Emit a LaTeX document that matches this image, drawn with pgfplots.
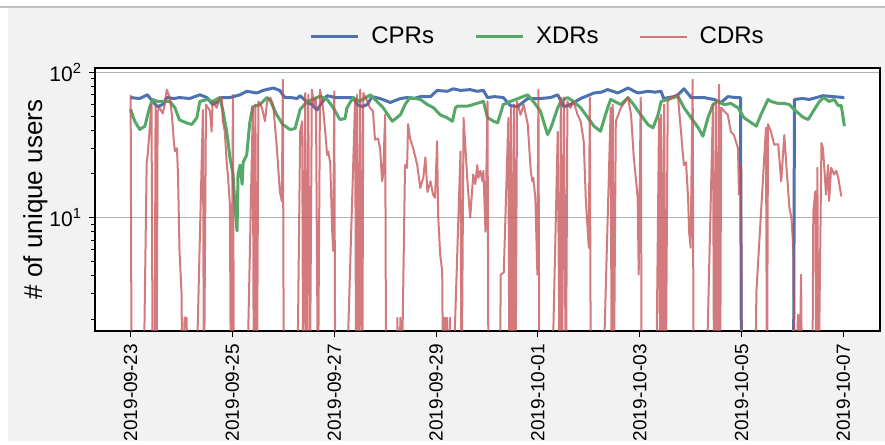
\documentclass[border=0pt]{standalone}
\usepackage{fontspec}
\setmainfont{Liberation Sans}
\usepackage{pgfplots}
\pgfplotsset{compat=1.18}
\definecolor{cpr}{HTML}{4C72B0}
\definecolor{xdr}{HTML}{55A868}
\definecolor{cdr}{HTML}{C44E52}
\definecolor{bg}{HTML}{F2F2F2}
\begin{document}
\begin{tikzpicture}
\fill[white] (0,0) rectangle (442.5pt,222.5pt);
\fill[bg] (4pt,2pt) rectangle (442.5pt,219pt);
\draw[black!25, line width=0.6pt] (0pt,219pt) -- (442.5pt,219pt);
\begin{axis}[
  at={(47.5pt,57pt)}, anchor=south west,
  scale only axis, width=392.5pt, height=131.5pt,
  ymode=log,
  xmin=-0.70, xmax=14.72, ymin=1.66, ymax=107,
  xtick={0,2,4,6,8,10,12,14},
  xticklabels={2019-09-23,2019-09-25,2019-09-27,2019-09-29,2019-10-01,2019-10-03,2019-10-05,2019-10-07},
  xticklabel style={rotate=90, anchor=east, font=\fontsize{9.5}{11}\selectfont},
  ytick={10,100},
  yticklabels={10\textsuperscript{1},10\textsuperscript{2}},
  minor ytick={2,3,4,5,6,7,8,9,20,30,40,50,60,70,80,90},
  yticklabel style={font=\fontsize{10.5}{12}\selectfont},
  tick align=outside, tick pos=left,
  major tick length=3pt, minor tick length=1.8pt,
  every tick/.style={black, line width=0.5pt},
  ymajorgrids, major grid style={color=black!30, line width=0.5pt},
  axis line style={line width=0.8pt},
  axis background/.style={fill=white},
  ylabel={\# of unique users},
  ylabel style={at={(axis description cs:-0.076,0.5)}, anchor=center, font=\fontsize{13}{15}\selectfont},
  legend style={at={(0.565,1.118)}, anchor=center, draw=none, fill=none,
    legend columns=3, font=\fontsize{12}{14}\selectfont,
    /tikz/every odd column/.append style={column sep=4pt},
    /tikz/every even column/.append style={column sep=18pt}},
  legend image code/.code={\draw[#1] (0pt,0pt) -- (23.5pt,0pt);},
  every axis plot/.append style={line join=round},
]
\addplot[cpr, line width=1.5pt] coordinates {
(0.00,67) (0.18,66) (0.33,70) (0.43,63) (0.53,58) (0.63,60) (0.71,67) (0.85,66) (0.96,67) (1.16,66) (1.36,70) (1.50,67) (1.61,60) (1.69,62) (1.79,67) (1.95,67) (2.15,70) (2.28,74) (2.48,72) (2.60,75) (2.80,78) (2.93,75) (3.03,67) (3.15,67) (3.27,66) (3.33,69) (3.47,62) (3.56,60) (3.66,55) (3.76,62) (3.86,69) (4.02,67) (4.23,67) (4.37,67) (4.45,60) (4.55,58) (4.65,60) (4.74,68) (4.90,66) (5.10,62) (5.30,66) (5.43,67) (5.57,66) (5.69,68) (5.89,68) (6.02,75) (6.22,74) (6.34,77) (6.48,75) (6.67,76) (6.80,74) (6.93,75) (7.01,67) (7.15,68) (7.32,67) (7.46,59) (7.60,58) (7.80,66) (8.05,66) (8.25,67) (8.39,70) (8.51,58) (8.64,60) (8.84,66) (9.10,72) (9.25,73) (9.37,76) (9.57,72) (9.77,78) (9.96,72) (10.16,74) (10.30,73) (10.42,74) (10.47,66) (10.67,68) (10.75,70) (10.87,77) (11.01,67) (11.26,67) (11.46,65) (11.60,62) (11.73,68) (11.89,67) (11.98,67) (12.00,0.5) (13.02,0.5) (13.04,65) (13.20,66) (13.33,65) (13.47,67) (13.60,69) (13.80,68) (14.02,67)
};
\addlegendentry{CPRs}
\addplot[xdr, line width=1.5pt] coordinates {
(0.00,55.5) (0.08,46) (0.18,40.4) (0.28,42.6) (0.37,57) (0.43,65) (0.53,63) (0.63,63) (0.77,63) (0.87,57) (0.96,47) (1.10,44.8) (1.20,43.7) (1.30,48.6) (1.36,63) (1.50,65) (1.61,63) (1.75,67) (1.81,55) (1.89,38.5) (1.95,26) (2.01,20) (2.05,12) (2.09,8.1) (2.11,20) (2.15,23) (2.19,17) (2.21,24) (2.28,27) (2.34,45) (2.40,58) (2.54,60) (2.68,67) (2.74,64) (2.87,51) (2.99,43.7) (3.13,40.4) (3.23,41) (3.33,55.5) (3.47,63) (3.58,65) (3.72,68.5) (3.86,65) (3.98,57) (4.11,47.3) (4.21,48) (4.25,57) (4.37,67) (4.49,63) (4.71,70) (4.84,63) (4.96,57) (5.14,46) (5.30,51) (5.39,60) (5.49,67) (5.69,65) (5.83,60) (5.95,57) (6.08,51) (6.22,48.6) (6.32,46) (6.38,57) (6.42,58.5) (6.62,58.5) (6.73,60) (6.93,63) (7.01,48.8) (7.13,46) (7.21,45) (7.32,60) (7.46,63) (7.66,67) (7.80,70) (7.91,63) (8.05,54) (8.19,37.3) (8.25,41) (8.39,57) (8.45,63) (8.58,67) (8.70,63) (8.84,57) (8.98,48.8) (9.10,42.6) (9.23,39.3) (9.37,57) (9.43,65) (9.63,60) (9.77,67) (9.88,60) (10.02,51) (10.16,43.7) (10.26,41.5) (10.36,51) (10.42,63) (10.55,65) (10.67,67) (10.75,68.5) (10.87,57) (11.01,48.6) (11.15,41.5) (11.24,36.3) (11.34,48.6) (11.44,60) (11.52,63) (11.66,60) (11.79,61) (11.93,57) (12.05,48.6) (12.19,45) (12.29,42.6) (12.38,51) (12.52,65) (12.58,63) (12.72,61) (12.84,61) (12.94,60) (13.07,54) (13.21,49) (13.31,47.3) (13.41,54) (13.53,63) (13.62,67) (13.72,63) (13.82,65) (13.90,59) (13.96,59) (14.02,42.6)
};
\addlegendentry{XDRs}
\addplot[cdr, line width=1pt, opacity=0.75] coordinates {
(0.00,70) (0.02,0.5) (0.25,0.5) (0.315,24) (0.335,27) (0.41,60) (0.435,0.5) (0.47,0.5) (0.49,60) (0.51,0.5) (0.53,54) (0.57,57) (0.63,52) (0.67,60) (0.71,76) (0.77,67) (0.81,51) (0.85,33) (0.87,28.6) (0.91,30) (0.93,20) (0.96,5.9) (1.00,3.0) (1.02,0.5) (1.06,2.05) (1.10,2.05) (1.12,0.5) (1.28,0.5) (1.42,55) (1.44,0.5) (1.48,60) (1.52,57) (1.56,54) (1.59,39) (1.61,63) (1.69,57) (1.75,67) (1.79,67) (1.81,46) (1.85,39) (1.89,23) (1.91,19.8) (1.95,12.3) (1.97,0.5) (2.01,70) (2.03,0.5) (2.28,0.5) (2.40,57) (2.42,0.5) (2.45,60) (2.48,0.5) (2.51,63) (2.58,57) (2.64,46) (2.68,63) (2.74,67) (2.80,60) (2.87,31) (2.93,15.2) (2.97,12.9) (2.99,89) (3.01,0.5) (3.27,0.5) (3.33,39.3) (3.37,46) (3.39,0.5) (3.43,72) (3.45,0.5) (3.49,70) (3.52,0.5) (3.56,76) (3.60,60) (3.64,67) (3.68,0.5) (3.72,76) (3.78,57) (3.82,40) (3.86,27) (3.88,28.6) (3.92,24) (3.96,8) (3.98,5.9) (4.00,74) (4.02,0.5) (4.23,0.5) (4.41,65) (4.43,0.5) (4.45,70) (4.49,0.5) (4.51,76) (4.55,0.5) (4.57,72) (4.65,63) (4.70,57) (4.76,54) (4.80,34.4) (4.86,35) (4.90,30) (4.94,17.8) (4.96,20) (5.00,51) (5.02,0.5) (5.22,0.5) (5.24,2.05) (5.26,0.5) (5.30,2.05) (5.32,0.5) (5.39,23) (5.43,22) (5.45,44) (5.49,35) (5.55,30) (5.63,23) (5.69,16) (5.75,19) (5.79,26) (5.83,15) (5.89,17.8) (5.94,14.4) (5.98,13.7) (6.02,33.5) (6.04,10.5) (6.08,5.6) (6.12,4.3) (6.14,0.5) (6.17,2.05) (6.18,0.5) (6.21,2.05) (6.22,0.5) (6.27,2.05) (6.28,0.5) (6.32,0.5) (6.48,28.6) (6.50,0.5) (6.54,48.6) (6.62,17) (6.67,10) (6.73,19.8) (6.77,17) (6.81,23) (6.83,18.8) (6.87,21) (6.91,17.8) (6.93,21) (6.97,8) (7.01,63) (7.03,0.5) (7.25,0.5) (7.27,4.05) (7.33,4.2) (7.42,48.6) (7.44,0.5) (7.47,57) (7.50,0.5) (7.53,60) (7.56,0.5) (7.59,63) (7.66,51) (7.72,60) (7.80,44) (7.86,20.9) (7.89,17.8) (7.91,18.8) (7.95,13.7) (7.99,4.05) (8.01,76) (8.03,0.5) (8.27,0.5) (8.39,39) (8.43,0.5) (8.45,67) (8.47,0.5) (8.51,67) (8.55,0.5) (8.58,63) (8.64,57) (8.70,63) (8.78,51) (8.84,46) (8.90,33.5) (8.94,13.7) (8.98,8) (9.00,6.2) (9.02,67) (9.04,0.5) (9.27,0.5) (9.43,57) (9.45,0.5) (9.47,60) (9.49,0.5) (9.53,46) (9.63,57) (9.77,67) (9.83,51) (9.88,27) (9.96,13.7) (9.98,4.05) (10.02,67) (10.04,0.5) (10.32,0.5) (10.38,48.6) (10.40,0.5) (10.42,51) (10.46,0.5) (10.48,60) (10.51,0.5) (10.55,63) (10.61,67) (10.75,70) (10.77,57) (10.85,27) (10.87,23) (10.91,24) (10.95,13.7) (10.97,8) (11.00,6.2) (11.04,89) (11.06,0.5) (11.30,0.5) (11.44,60) (11.46,0.5) (11.50,63) (11.52,0.5) (11.56,82) (11.58,0.5) (11.60,57) (11.66,54) (11.73,51) (11.79,39) (11.85,37) (11.93,30) (11.95,14.4) (11.99,23) (12.01,0.5) (12.28,0.5) (12.29,3.0) (12.48,41.6) (12.50,0.5) (12.52,44) (12.58,39) (12.64,31.8) (12.72,32) (12.78,17.8) (12.84,37) (12.88,23) (12.94,11.7) (12.98,10) (13.02,5.9) (13.04,0.5) (13.11,2.15) (13.13,0.5) (13.17,4.05) (13.19,0.5) (13.39,0.5) (13.41,11) (13.45,15.2) (13.47,0.5) (13.49,22) (13.51,0.5) (13.57,32.6) (13.60,30) (13.66,14.4) (13.70,23) (13.72,13) (13.76,22) (13.82,19.8) (13.86,21) (13.90,18.8) (13.96,14)
};
\addlegendentry{CDRs}
\end{axis}
\pgfresetboundingbox
\useasboundingbox (0,0) rectangle (442.5pt,222.5pt);
\end{tikzpicture}
\end{document}
